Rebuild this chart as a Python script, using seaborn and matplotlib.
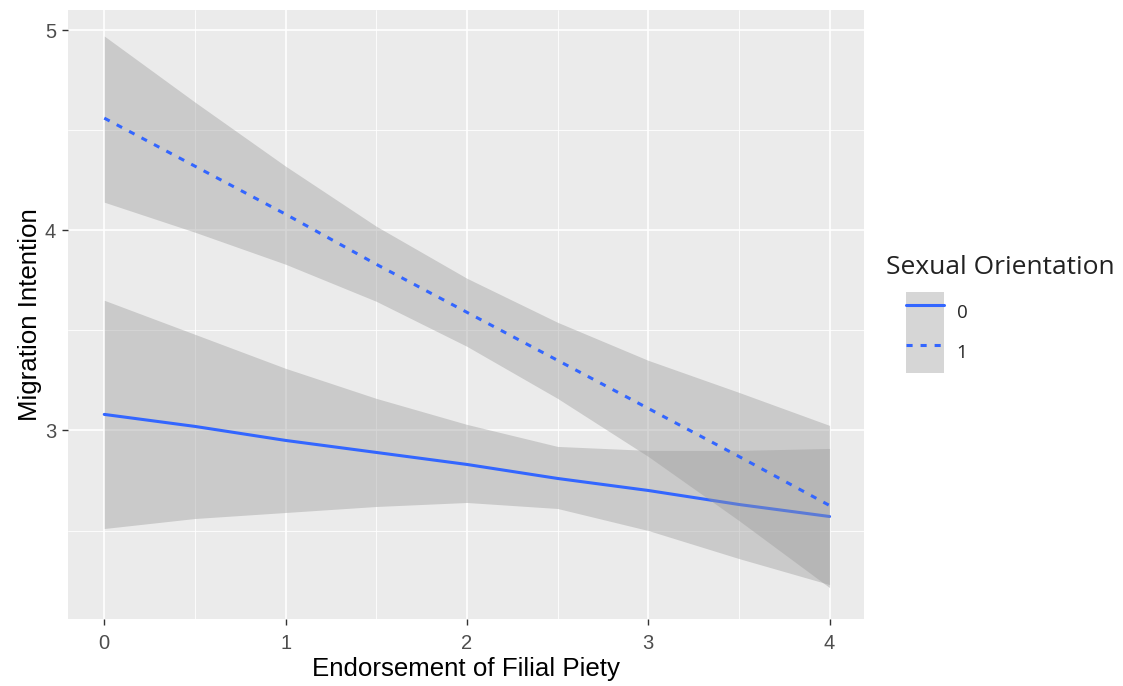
import numpy as np
import pandas as pd
import matplotlib
matplotlib.use("Agg")
import matplotlib.pyplot as plt
from matplotlib.ticker import MultipleLocator, FixedLocator
from matplotlib.patches import Patch
from matplotlib.lines import Line2D
import seaborn as sns

# ---- data ----
x_vals = [0, 0.5, 1, 1.5, 2, 2.5, 3, 3.5, 4]

fit_0 = [3.08, 3.02, 2.95, 2.89, 2.83, 2.76, 2.70, 2.63, 2.57]
upper_0 = [3.65, 3.48, 3.31, 3.16, 3.03, 2.92, 2.90, 2.90, 2.91]
lower_0 = [2.51, 2.56, 2.59, 2.62, 2.64, 2.61, 2.50, 2.36, 2.23]

fit_1 = [4.56, 4.32, 4.08, 3.83, 3.59, 3.35, 3.11, 2.87, 2.625]
upper_1 = [4.97, 4.64, 4.32, 4.02, 3.76, 3.54, 3.35, 3.19, 3.025]
lower_1 = [4.14, 3.99, 3.83, 3.645, 3.42, 3.16, 2.87, 2.55, 2.215]

groups = ["0", "1"]
x_ticks = [0, 1, 2, 3, 4]
y_ticks = [3, 4, 5]
x_label = "Endorsement of Filial Piety"
y_label = "Migration Intention"
legend_title = "Sexual Orientation"

df = pd.DataFrame({
    "x": x_vals * 2,
    "y": fit_0 + fit_1,
    "lo": lower_0 + lower_1,
    "hi": upper_0 + upper_1,
    "group": [groups[0]] * len(x_vals) + [groups[1]] * len(x_vals),
})

# ---- style ----
sns.set_theme(style="darkgrid", rc={
    "axes.facecolor": "#EBEBEB",
    "grid.color": "white",
    "figure.facecolor": "white",
})
plt.rcParams["font.family"] = ["Liberation Sans", "DejaVu Sans"]

LINE_COLOR = "#3366FF"
BAND_COLOR = "#999999"
dash_styles = {"0": "-", "1": (0, (2.0, 2.6))}

fig = plt.figure(figsize=(11.23, 6.86), dpi=100)
ax = fig.add_axes([68 / 1123, 1 - 619 / 686, 796 / 1123, 609.4 / 686])

z = 1
for g in groups:
    sub = df[df["group"] == g]
    ax.fill_between(sub["x"], sub["lo"], sub["hi"], color=BAND_COLOR,
                    alpha=0.4, linewidth=0, zorder=z)
    sns.lineplot(data=sub, x="x", y="y", ax=ax, color=LINE_COLOR,
                 linewidth=2.2, linestyle=dash_styles[g], errorbar=None,
                 estimator=None, sort=False, legend=False, zorder=z + 1)
    z += 2

ax.set_xlim(-0.2, 4.19)
ax.set_ylim(2.058, 5.102)
ax.xaxis.set_major_locator(FixedLocator(x_ticks))
ax.yaxis.set_major_locator(FixedLocator(y_ticks))
ax.xaxis.set_minor_locator(MultipleLocator(0.5))
ax.yaxis.set_minor_locator(MultipleLocator(0.5))
ax.set_xticklabels([str(t) for t in x_ticks])
ax.set_yticklabels([str(t) for t in y_ticks])
ax.grid(which="major", color="white", linewidth=1.2)
ax.grid(which="minor", color="white", linewidth=0.6)
ax.set_axisbelow(True)
for s in ax.spines.values():
    s.set_visible(False)

ax.tick_params(axis="both", which="major", length=4.5, width=1.0,
               color="#333333", labelcolor="#4D4D4D", labelsize=14.5,
               bottom=True, left=True)
ax.tick_params(axis="x", which="major", pad=6.5)
ax.tick_params(axis="y", which="major", pad=4.0)
ax.tick_params(which="minor", length=0)

ax.set_xlabel(x_label, fontsize=18.6, color="black", labelpad=3)
ax.set_ylabel(y_label, fontsize=18.6, color="black", labelpad=2)

# ---- legend ----
handles = [
    (Patch(facecolor=BAND_COLOR, alpha=0.4, edgecolor="none"),
     Line2D([], [], color=LINE_COLOR, linewidth=2.2, linestyle=dash_styles[g]))
    for g in groups
]
leg_font = {"family": ["Open Sans", "DejaVu Sans"], "size": 13.5}
leg = fig.legend(handles, groups, loc="upper left",
                 bbox_to_anchor=(906 / 1123, 1 - 292 / 686),
                 frameon=False, prop=leg_font, handlelength=2.05,
                 handleheight=2.95, labelspacing=0, handletextpad=0.65,
                 borderpad=0, borderaxespad=0)
fig.text(886 / 1123, 1 - 267 / 686, legend_title, ha="left", va="center",
         fontsize=19, family=["Open Sans", "DejaVu Sans"], color="#222222")

fig.savefig("out.png", dpi=100)
